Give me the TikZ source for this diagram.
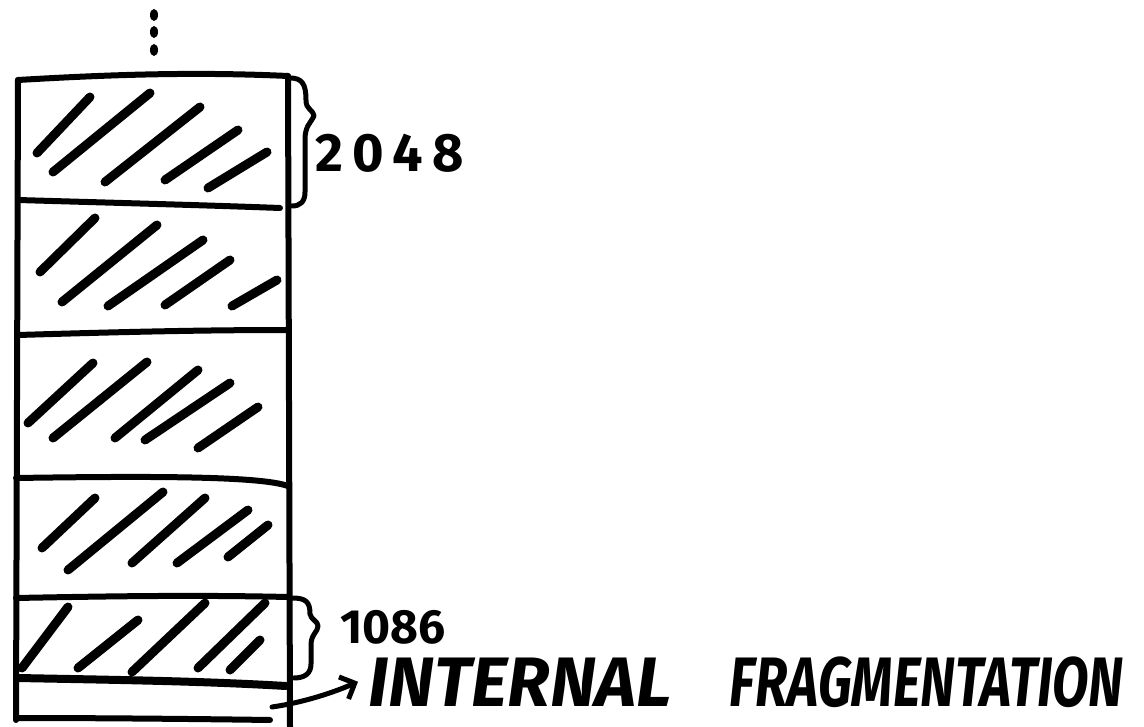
\documentclass[tikz,border=0pt]{standalone}
\usepackage{fontspec}
\usepackage{graphicx}
\setmainfont{Fira Sans}
\usetikzlibrary{arrows.meta}
\begin{document}
\begin{tikzpicture}[x=1pt,y=-1pt,
  frame/.style={line width=6pt,line cap=round,line join=round},
  hatch/.style={line width=9pt,line cap=round},
  brc/.style={line width=5pt,line cap=round,line join=round},
  num/.style={font=\fontsize{54}{54}\selectfont\bfseries, inner sep=0pt, anchor=base west},
  big/.style={font=\fontsize{70}{70}\selectfont\bfseries\itshape, inner sep=0pt, anchor=base west},
]
\useasboundingbox (0,0) rectangle (1144,727);
% dots
\foreach \y in {15,32,50} \fill (154,\y) ellipse [x radius=4pt, y radius=6pt];
% column frame
\draw[frame] (18,80) -- (16,720);
\draw[frame] (288,76) -- (290,727);
\draw[frame] (18,80) .. controls (120,74) and (200,72) .. (288,76);
\draw[frame] (18,200) .. controls (120,203) and (200,205) .. (280,208);
\draw[frame] (18,335) .. controls (120,332) and (200,330) .. (288,330);
\draw[frame] (16,478) .. controls (150,476) and (260,476) .. (288,486);
\draw[frame] (16,598) .. controls (120,596) and (200,595) .. (288,597);
\draw[line width=8pt,line cap=round] (18,678) .. controls (120,680) and (200,681) .. (286,686);
\draw[frame] (16,718) .. controls (100,718) and (200,719) .. (270,720);
% hatching
\foreach \a/\b/\c/\d in {
  90/97/37/153, 150/93/53/172, 200/107/105/182, 238/130/165/180, 267/152/208/188,
  95/218/40/272, 157/225/62/302, 203/240/108/306, 230/260/165/305, 277/280/232/306,
  93/363/28/423, 147/362/53/438, 198/370/115/438, 230/383/145/440, 258/407/198/448,
  95/498/42/548, 163/492/68/570, 205/498/132/563, 248/510/177/563, 268/525/228/557,
  68/607/22/668, 138/620/78/668, 205/603/132/672, 265/603/198/668, 260/640/230/670}
  \draw[hatch] (\a,\b) -- (\c,\d);
% braces
\draw[brc] (290,78) .. controls (302,78) and (306,84) .. (306,100)
  .. controls (306,110) and (312,108) .. (314,116)
  .. controls (310,124) and (305,126) .. (305,140)
  -- (305,192) .. controls (305,202) and (300,206) .. (292,206);
\draw[brc] (292,598) .. controls (306,598) and (310,602) .. (310,614)
  .. controls (311,620) and (318,621) .. (318,626)
  .. controls (318,632) and (311,634) .. (311,645)
  -- (311,664) .. controls (311,674) and (304,678) .. (294,678);
% labels
\node[num] (n2048) at (315,172) {2\,0\,4\,8};
\node[num,font=\fontsize{48}{48}\selectfont\bfseries] (n1086) at (340,643) {1086};
\node[big] (txt) at (368,706) {INTERNAL\hspace{58pt}\scalebox{0.76}[1]{\bfseries\itshape FRAGMENTATION}};
\coordinate (astart) at (272,707);
\draw[brc,-{Straight Barb[length=12pt,width=24pt,line width=5pt]}] (astart) .. controls (300,703) and (330,694) .. ([xshift=-10pt]txt.west);
\end{tikzpicture}
\end{document}
